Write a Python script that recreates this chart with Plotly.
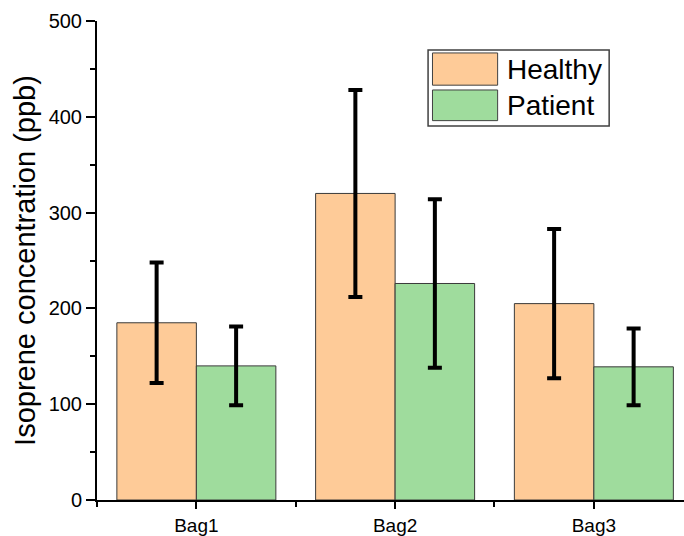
import plotly.graph_objects as go

categories = ["Bag1", "Bag2", "Bag3"]
healthy = [185, 320, 205]
healthy_err = [63, 108, 78]
patient = [140, 226, 139]
patient_err = [41, 88, 40]
series_names = ["Healthy", "Patient"]
y_ticks = [0, 100, 200, 300, 400, 500]

ORANGE = "#FECB98"
GREEN = "#9FDC9D"
OUTLINE = "#3a3a3a"
FONT = "Liberation Sans, Arial, sans-serif"

xpos = list(range(len(categories)))

fig = go.Figure()
for name, vals, errs, col in [
    (series_names[0], healthy, healthy_err, ORANGE),
    (series_names[1], patient, patient_err, GREEN),
]:
    fig.add_trace(go.Bar(
        x=xpos, y=vals, name=name,
        marker=dict(color=col, line=dict(color=OUTLINE, width=1)),
        error_y=dict(type="data", array=errs, visible=True,
                     color="black", thickness=4, width=7),
        showlegend=False,
    ))

# legend drawn as shapes + text to match the large swatches
fig.add_shape(type="rect", xref="paper", yref="paper",
              x0=0.564, x1=0.8725, y0=0.781, y1=0.9395,
              line=dict(color="#404040", width=1.5), fillcolor="white", layer="above")
sw = [(ORANGE, 0.9333, 0.866), (GREEN, 0.856, 0.792)]
for (col, y1, y0), name in zip(sw, series_names):
    fig.add_shape(type="rect", xref="paper", yref="paper",
                  x0=0.5715, x1=0.6825, y0=y0, y1=y1,
                  line=dict(color="#404040", width=1), fillcolor=col, layer="above")
    fig.add_annotation(xref="paper", yref="paper", x=0.6945, y=(y0 + y1) / 2,
                       text=name, showarrow=False, xanchor="left", yanchor="middle",
                       font=dict(family=FONT, size=28, color="black"))

fig.update_layout(
    width=684, height=536,
    margin=dict(l=97, r=0, t=21, b=36),
    paper_bgcolor="white", plot_bgcolor="white",
    barmode="group", bargap=0.2, bargroupgap=0,
    font=dict(family=FONT, color="black"),
)
fig.update_xaxes(
    range=[-0.5, 2.4535], tickmode="array", tickvals=xpos, ticktext=categories,
    showline=True, linecolor="black", linewidth=2, ticks="outside",
    ticklen=7, tickwidth=2, tickcolor="black", showgrid=False, zeroline=False,
    tickfont=dict(family=FONT, size=19),
    minor=dict(tickmode="array", tickvals=[-0.5, 0.5, 1.5],
               ticks="outside", ticklen=5, tickwidth=2, tickcolor="black"),
)
fig.update_yaxes(
    range=[0, 500], tickmode="array", tickvals=y_ticks,
    showline=True, linecolor="black", linewidth=2, ticks="outside",
    ticklen=9, tickwidth=2, tickcolor="black", showgrid=False, zeroline=False,
    tickfont=dict(family=FONT, size=20),
    minor=dict(dtick=50, ticks="outside", ticklen=5, tickwidth=2, tickcolor="black"),
    title=dict(text="Isoprene concentration (ppb)", font=dict(family=FONT, size=29), standoff=4),
)

fig.write_html("out.html")
